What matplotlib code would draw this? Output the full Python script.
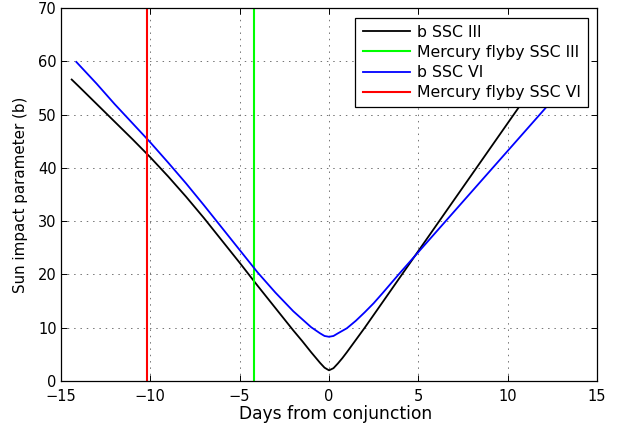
import numpy as np
import matplotlib
matplotlib.use("Agg")
import matplotlib.pyplot as plt

plt.rcParams['font.family'] = ['DejaVu Sans']

# b SSC III (black)
days_ssc3 = [-14.4, -14, -13, -12, -11, -10, -9, -8, -7, -6, -5, -4, -3, -2, -1.5, -1, -0.75, -0.5, -0.25,
             0, 0.25, 0.5, 0.75, 1, 1.5, 2, 3, 4, 5, 6, 7, 8, 9, 10, 11, 12, 13, 13.5]
b_ssc3 = [56.6, 55.3, 52.0, 48.7, 45.4, 42.0, 38.4, 34.6, 30.6, 26.4, 22.2, 17.9, 13.7, 9.5, 7.5, 5.4, 4.4, 3.4, 2.5,
          2.0, 2.4, 3.3, 4.3, 5.4, 7.7, 10.0, 14.8, 19.6, 24.4, 29.2, 34.0, 38.8, 43.6, 48.4, 53.2, 58.0, 62.8, 65.2]

# b SSC VI (blue)
days_ssc6 = [-14.14, -13, -12, -11, -10, -9, -8, -7, -6, -5, -4, -3, -2, -1.5, -1, -0.5, -0.25,
             0, 0.25, 0.5, 1, 1.5, 2, 2.5, 3, 4, 5, 6, 7, 8, 9, 10, 11, 12, 13, 14]
b_ssc6 = [59.9, 55.8, 52.0, 48.4, 44.8, 41.0, 37.1, 33.0, 28.8, 24.6, 20.4, 16.6, 13.1, 11.6, 10.1, 8.95, 8.45,
          8.3, 8.45, 8.95, 9.9, 11.3, 12.9, 14.6, 16.5, 20.4, 24.2, 28.0, 31.8, 35.6, 39.4, 43.2, 47.0, 50.8, 54.6, 58.4]

# Mercury flyby days
flyby_ssc3 = -4.18
flyby_ssc6 = -10.2

fig = plt.figure(figsize=(6.19, 4.30), dpi=100)
ax = fig.add_axes([0.0985, 0.114, 0.866, 0.867])

ax.plot(days_ssc3, b_ssc3, color='k', lw=1.3, label='b SSC III')
ax.axvline(flyby_ssc3, color=(0, 1, 0), lw=1.5, label='Mercury flyby SSC III')
ax.plot(days_ssc6, b_ssc6, color=(0, 0, 1), lw=1.3, label='b SSC VI')
ax.axvline(flyby_ssc6, color=(1, 0, 0), lw=1.5, label='Mercury flyby SSC VI')

ax.set_xlim(-15, 15)
ax.set_ylim(0, 70)
ax.set_xticks(np.arange(-15, 16, 5))
ax.set_yticks(np.arange(0, 71, 10))
ax.grid(True, linestyle=(0, (1.5, 5)), color='0.45', lw=0.7)
ax.tick_params(direction='in', top=True, right=True, labelsize=10.5, length=4, width=0.7)
ax.tick_params(axis='x', pad=6)
ax.tick_params(axis='y', pad=3)
for s in ax.spines.values():
    s.set_linewidth(0.9)

ax.set_xlabel('Days from conjunction', fontsize=12.3)
ax.xaxis.set_label_coords(0.513, -0.065)
ax.set_ylabel('Sun impact parameter (b)', fontsize=10.9, labelpad=7)

leg = ax.legend(loc='upper right', fontsize=11.3, fancybox=False, framealpha=1,
                edgecolor='k', handlelength=3.0, borderaxespad=0.6,
                labelspacing=0.33, borderpad=0.45, handletextpad=0.45)
leg.get_frame().set_linewidth(0.9)

fig.savefig('out.png', dpi=100)
